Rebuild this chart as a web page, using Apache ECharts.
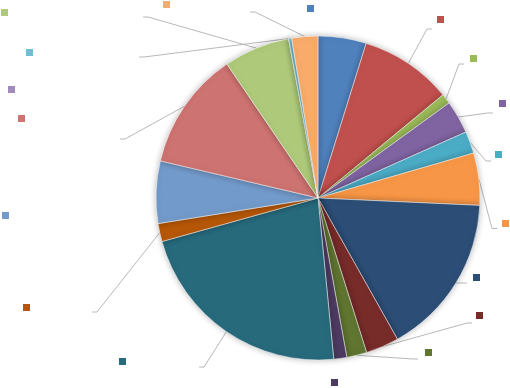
<!DOCTYPE html>
<html>
<head>
<meta charset="utf-8">
<script src="https://cdn.jsdelivr.net/npm/echarts@6/dist/echarts.min.js"></script>
<style>html,body{margin:0;padding:0;background:#fff}#c{width:510px;height:388px}</style>
</head>
<body>
<div id="c"></div>
<script>
// ---- data ----
const categories = ['Category 1','Category 2','Category 3','Category 4','Category 5','Category 6',
  'Category 7','Category 8','Category 9','Category 10','Category 11','Category 12',
  'Category 13','Category 14','Category 15','Category 16','Category 17','Category 18'];
const values = [4.8, 9.2, 1.0, 3.3, 2.2, 5.2, 16.1, 3.3, 2.0, 1.3, 22.2, 1.8, 6.2, 11.8, 6.6, 0, 0.3, 2.6];

// ---- styles ----
const colors = ['#4F81BD','#C0504D','#9BBB59','#8064A2','#4BACC6','#F79646',
  '#2C4D75','#772C2A','#5F7530','#4D3B62','#276A7C','#B65708',
  '#729ACA','#CD7371','#AFC97A','#9F8AB9','#6FBDD1','#F9AB6B'];
// label key placement: [keyLeft, keyTop, padLeft, padRight, padBottom, showLine]
const labelBoxes = [
  [307, 5, 0, 40, 12, false],
  [437, 16, 5, 40, 19, true],
  [470, 55, 6, 40, 11, true],
  [499, 100, 6, 40, 19, true],
  [495, 151, 4, 40, 13, true],
  [502, 220, 5, 40, 10, true],
  [473, 274, 6, 40, 11, true],
  [476, 312, 4, 40, 15, true],
  [425, 349, 7, 40, 13, true],
  [331, 379, 0, 40, 12, false],
  [119, 358, 0, 73, 11, true],
  [23, 304, 0, 62, 9, true],
  [2, 212, 0, 60, 12, false],
  [18, 115, 0, 95, 41, true],
  [1, 9, 0, 135, 9, true],
  [8, 86, 0, 60, 12, false],
  [26, 49, 0, 106, 9, true],
  [163, 1, 0, 80, 15, true]
];

const chart = echarts.init(document.getElementById('c'), null, {renderer: 'canvas'});
const data = categories.map((name, i) => {
  const b = labelBoxes[i];
  return {
    name: name,
    value: values[i],
    itemStyle: {color: colors[i]},
    label: {
      padding: [0, b[3], b[4], b[2]],
      rich: {sq: {width: 7, height: 7, lineHeight: 7, backgroundColor: colors[i]}}
    },
    labelLine: {show: b[5]}
  };
});

chart.setOption({
  animation: false,
  backgroundColor: '#fff',
  series: [{
    type: 'pie',
    center: [318, 198],
    radius: 162,
    startAngle: 90,
    clockwise: true,
    avoidLabelOverlap: false,
    emphasis: {disabled: true},
    itemStyle: {borderColor: '#ffffff', borderWidth: 0.5, shadowBlur: 6, shadowColor: 'rgba(0,0,0,0.28)'},
    label: {
      show: true,
      position: 'outside',
      formatter: '{sq|}',
      backgroundColor: 'rgba(255,255,255,0)',
      fontSize: 7,
      lineHeight: 7
    },
    labelLine: {
      show: true, length: 10, length2: 5, smooth: false,
      lineStyle: {color: '#a6a6a6', width: 0.8}
    },
    labelLayout: function (params) {
      const b = labelBoxes[params.dataIndex];
      return {x: b[0] - b[2], y: b[1], align: 'left', verticalAlign: 'top'};
    },
    data: data
  }]
});
</script>
</body>
</html>
